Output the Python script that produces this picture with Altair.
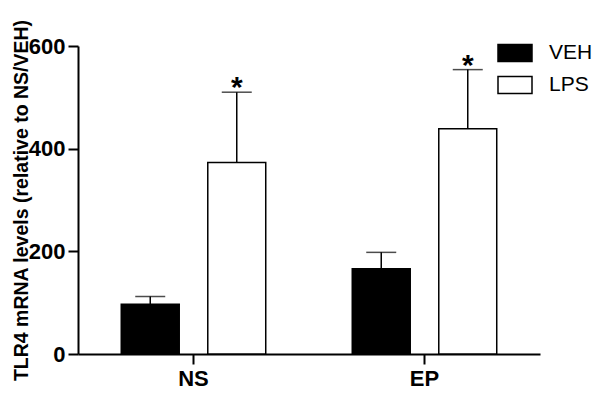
import altair as alt
import pandas as pd

groups = ["NS", "EP"]
treatments = ["VEH", "LPS"]
veh_means = [97, 166]
veh_sem = [15, 32]
lps_means = [373, 439]
lps_sem = [137, 115]
stars = ["", "*"]  # significance marks per treatment (VEH none, LPS *)
y_ticks = [0, 200, 400, 600]

rows = []
for i, g in enumerate(groups):
    rows.append({"group": g, "treatment": "VEH", "mean": veh_means[i],
                 "top": veh_means[i] + veh_sem[i], "star": stars[0]})
    rows.append({"group": g, "treatment": "LPS", "mean": lps_means[i],
                 "top": lps_means[i] + lps_sem[i], "star": stars[1]})
df = pd.DataFrame(rows)

FONT = "Liberation Sans"

x_enc = alt.X("group:N", sort=groups,
              scale=alt.Scale(paddingInner=0, paddingOuter=0),
              axis=alt.Axis(title=None, labelAngle=0, labelFontSize=22,
                            labelFontWeight="bold", labelColor="black",
                            tickSize=10, tickWidth=2, tickColor="black",
                            domainWidth=2, domainColor="black", labelPadding=4))
xo_enc = alt.XOffset("treatment:N", sort=treatments,
                     scale=alt.Scale(paddingInner=0.33, paddingOuter=0.5))
y_scale = alt.Scale(domain=[0, 600], nice=False)

bars = alt.Chart(df).mark_bar(stroke="black", strokeWidth=1.5).encode(
    x=x_enc,
    xOffset=xo_enc,
    y=alt.Y("mean:Q", scale=y_scale,
            axis=alt.Axis(values=y_ticks, grid=False,
                          title="TLR4 mRNA levels (relative to NS/VEH)",
                          titleFontSize=19.5, titleFontWeight="bold",
                          titleColor="black", titleX=-47,
                          labelFontSize=22, labelFontWeight="bold",
                          labelColor="black", labelPadding=3,
                          tickSize=10, tickWidth=2, tickColor="black",
                          domainWidth=2, domainColor="black")),
    fill=alt.Fill("treatment:N", sort=treatments,
                  scale=alt.Scale(domain=treatments, range=["black", "white"]),
                  legend=alt.Legend(title=None, orient="none",
                                    legendX=419, legendY=-11,
                                    symbolType="M-1,-0.5L1,-0.5L1,0.5L-1,0.5Z",
                                    symbolSize=1156,
                                    symbolStrokeColor="black",
                                    symbolStrokeWidth=1.5,
                                    labelFontSize=21, labelColor="black",
                                    labelOffset=16, rowPadding=2,
                                    padding=0)),
)

rules = alt.Chart(df).mark_rule(color="black", strokeWidth=1.5).encode(
    x=alt.X("group:N", sort=groups),
    xOffset=xo_enc,
    y=alt.Y("mean:Q", scale=y_scale),
    y2="top:Q",
)

caps = alt.Chart(df).mark_tick(color="black", thickness=1.5, size=30).encode(
    x=alt.X("group:N", sort=groups),
    xOffset=xo_enc,
    y=alt.Y("top:Q", scale=y_scale),
)

text = alt.Chart(df).mark_text(fontSize=30, fontWeight="bold", font=FONT,
                               color="black", baseline="alphabetic", dy=5).encode(
    x=alt.X("group:N", sort=groups),
    xOffset=xo_enc,
    y=alt.Y("top:Q", scale=y_scale),
    text="star:N",
)

chart = alt.layer(bars, rules, caps, text).properties(
    width=462, height=308,
    autosize=alt.AutoSizeParams(type="none"),
    padding={"left": 70, "top": 38, "right": 52, "bottom": 45},
).configure(font=FONT).configure_view(stroke=None)

chart.save("out.html", embed_options={"renderer": "svg", "actions": False})
